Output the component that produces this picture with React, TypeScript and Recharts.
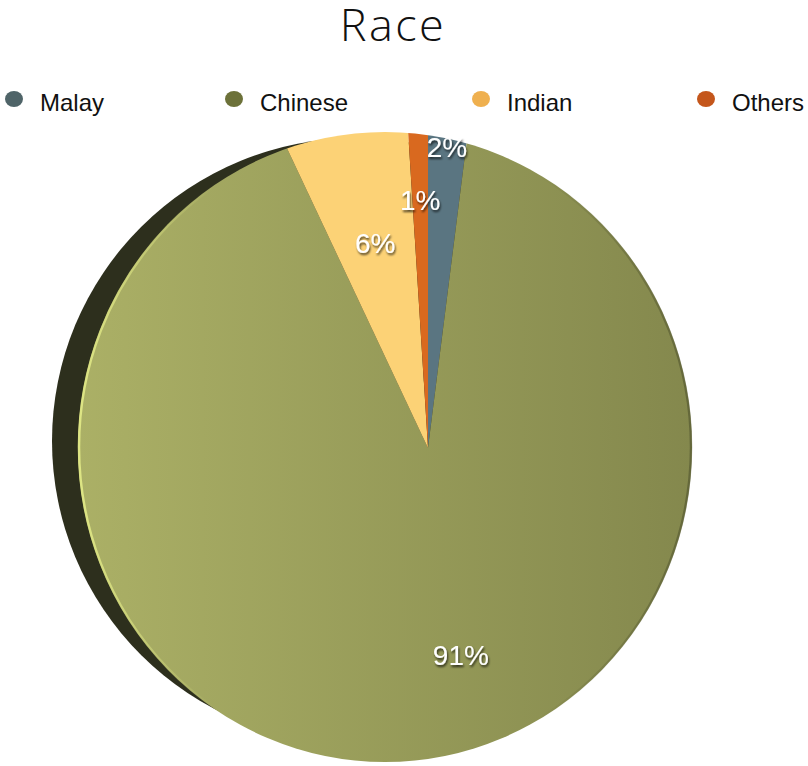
import React from 'react';
import { PieChart, Pie, Cell, Legend } from 'recharts';

// data
const categories = ['Malay', 'Chinese', 'Indian', 'Others'];
const shares = [2, 91, 6, 1];

const data = categories.map((name, i) => ({ name, value: shares[i] }));

// styling
const SLICE_FILLS = ['#5a7581', 'url(#chineseFace)', '#fcd276', '#d9691f'];
const DOT_COLORS = ['#4f6468', '#6c7139', '#efb04f', '#c4561b'];
const LABEL_R = [302, 210, 212, 248];
const LEGEND_X = [40, 260, 507, 732];

const W = 808;
const H = 766;
const FACE = { cx: 385, cy: 447, rx: 307, ry: 315 };
const RAD = Math.PI / 180;

const renderLabel = (p: any) => {
  const r = LABEL_R[p.index];
  const x = p.cx + r * Math.cos(-p.midAngle * RAD);
  const y = p.cy + r * Math.sin(-p.midAngle * RAD);
  return (
    <text
      x={x}
      y={y + 10}
      textAnchor="middle"
      fill="#ffffff"
      fontSize={28}
      fontFamily="'Liberation Sans', Arial, sans-serif"
      filter="url(#lblShadow)"
    >
      {`${p.value}%`}
    </text>
  );
};

const LegendContent = () => (
  <div style={{ position: 'relative', height: 0 }}>
    {categories.map((name, i) => (
      <React.Fragment key={name}>
        <span
          style={{
            position: 'absolute',
            left: LEGEND_X[i] - 35,
            top: 91,
            width: 18,
            height: 16,
            borderRadius: '50%',
            background: DOT_COLORS[i],
          }}
        />
        <span
          style={{
            position: 'absolute',
            left: LEGEND_X[i],
            top: 90.7,
            fontSize: 24,
            lineHeight: '24px',
            fontFamily: "'Liberation Sans', Arial, sans-serif",
            color: '#111',
            whiteSpace: 'nowrap',
          }}
        >
          {name}
        </span>
      </React.Fragment>
    ))}
  </div>
);

const layer: React.CSSProperties = { position: 'absolute', left: 0, top: 0 };

export default function App() {
  return (
    <div style={{ position: 'absolute', left: 0, top: 0, width: W, height: H, background: '#fff' }}>
      <style>{`.recharts-pie-sector path { clip-path: url(#faceClip); }`}</style>
      <svg width={W} height={H} style={layer}>
        <defs>
          <linearGradient id="chineseFace" gradientUnits="userSpaceOnUse" x1={78} y1={0} x2={692} y2={0}>
            <stop offset="0" stopColor="#abb066" />
            <stop offset="1" stopColor="#84884d" />
          </linearGradient>
          <linearGradient id="rimGrad" gradientUnits="userSpaceOnUse" x1={78} y1={0} x2={692} y2={0}>
            <stop offset="0" stopColor="#e4ec88" stopOpacity={0.9} />
            <stop offset="0.22" stopColor="#e4ec88" stopOpacity={0} />
            <stop offset="0.75" stopColor="#3c3f22" stopOpacity={0} />
            <stop offset="1" stopColor="#3c3f22" stopOpacity={0.45} />
          </linearGradient>
          <clipPath id="faceClip" clipPathUnits="userSpaceOnUse">
            <ellipse cx={FACE.cx} cy={FACE.cy} rx={FACE.rx} ry={FACE.ry} />
          </clipPath>
          <filter id="lblShadow" x="-30%" y="-30%" width="160%" height="160%">
            <feDropShadow dx={1} dy={2} stdDeviation={1.2} floodColor="#000" floodOpacity={0.7} />
          </filter>
        </defs>
        <text
          x={393}
          y={41}
          textAnchor="middle"
          fontSize={45}
          fontWeight={300}
          letterSpacing={2.5}
          fontFamily="'Open Sans', sans-serif"
          fill="#111"
        >
          Race
        </text>
        <ellipse cx={FACE.cx - 28} cy={FACE.cy - 6} rx={FACE.rx - 2} ry={FACE.ry - 12} fill="#2d2f1d" />
      </svg>
      <div style={layer}>
        <PieChart width={W} height={H} margin={{ top: 0, right: 0, bottom: 0, left: 0 }}>
          <Legend
            verticalAlign="top"
            content={<LegendContent />}
            wrapperStyle={{ position: 'absolute', top: 0, left: 0, width: W, height: 0, margin: 0 }}
          />
          <Pie
            data={data}
            dataKey="value"
            nameKey="name"
            cx={428}
            cy={448}
            innerRadius={0}
            outerRadius={360}
            startAngle={90}
            endAngle={-270}
            stroke="none"
            label={renderLabel}
            labelLine={false}
            isAnimationActive={false}
          >
            {data.map((d, i) => (
              <Cell key={d.name} fill={SLICE_FILLS[i]} clipPath="url(#faceClip)" />
            ))}
          </Pie>
        </PieChart>
      </div>
      <svg width={W} height={H} style={{ ...layer, pointerEvents: 'none' }}>
        <ellipse
          cx={FACE.cx}
          cy={FACE.cy}
          rx={FACE.rx - 1}
          ry={FACE.ry - 1}
          fill="none"
          stroke="url(#rimGrad)"
          strokeWidth={2.5}
        />
      </svg>
    </div>
  );
}
